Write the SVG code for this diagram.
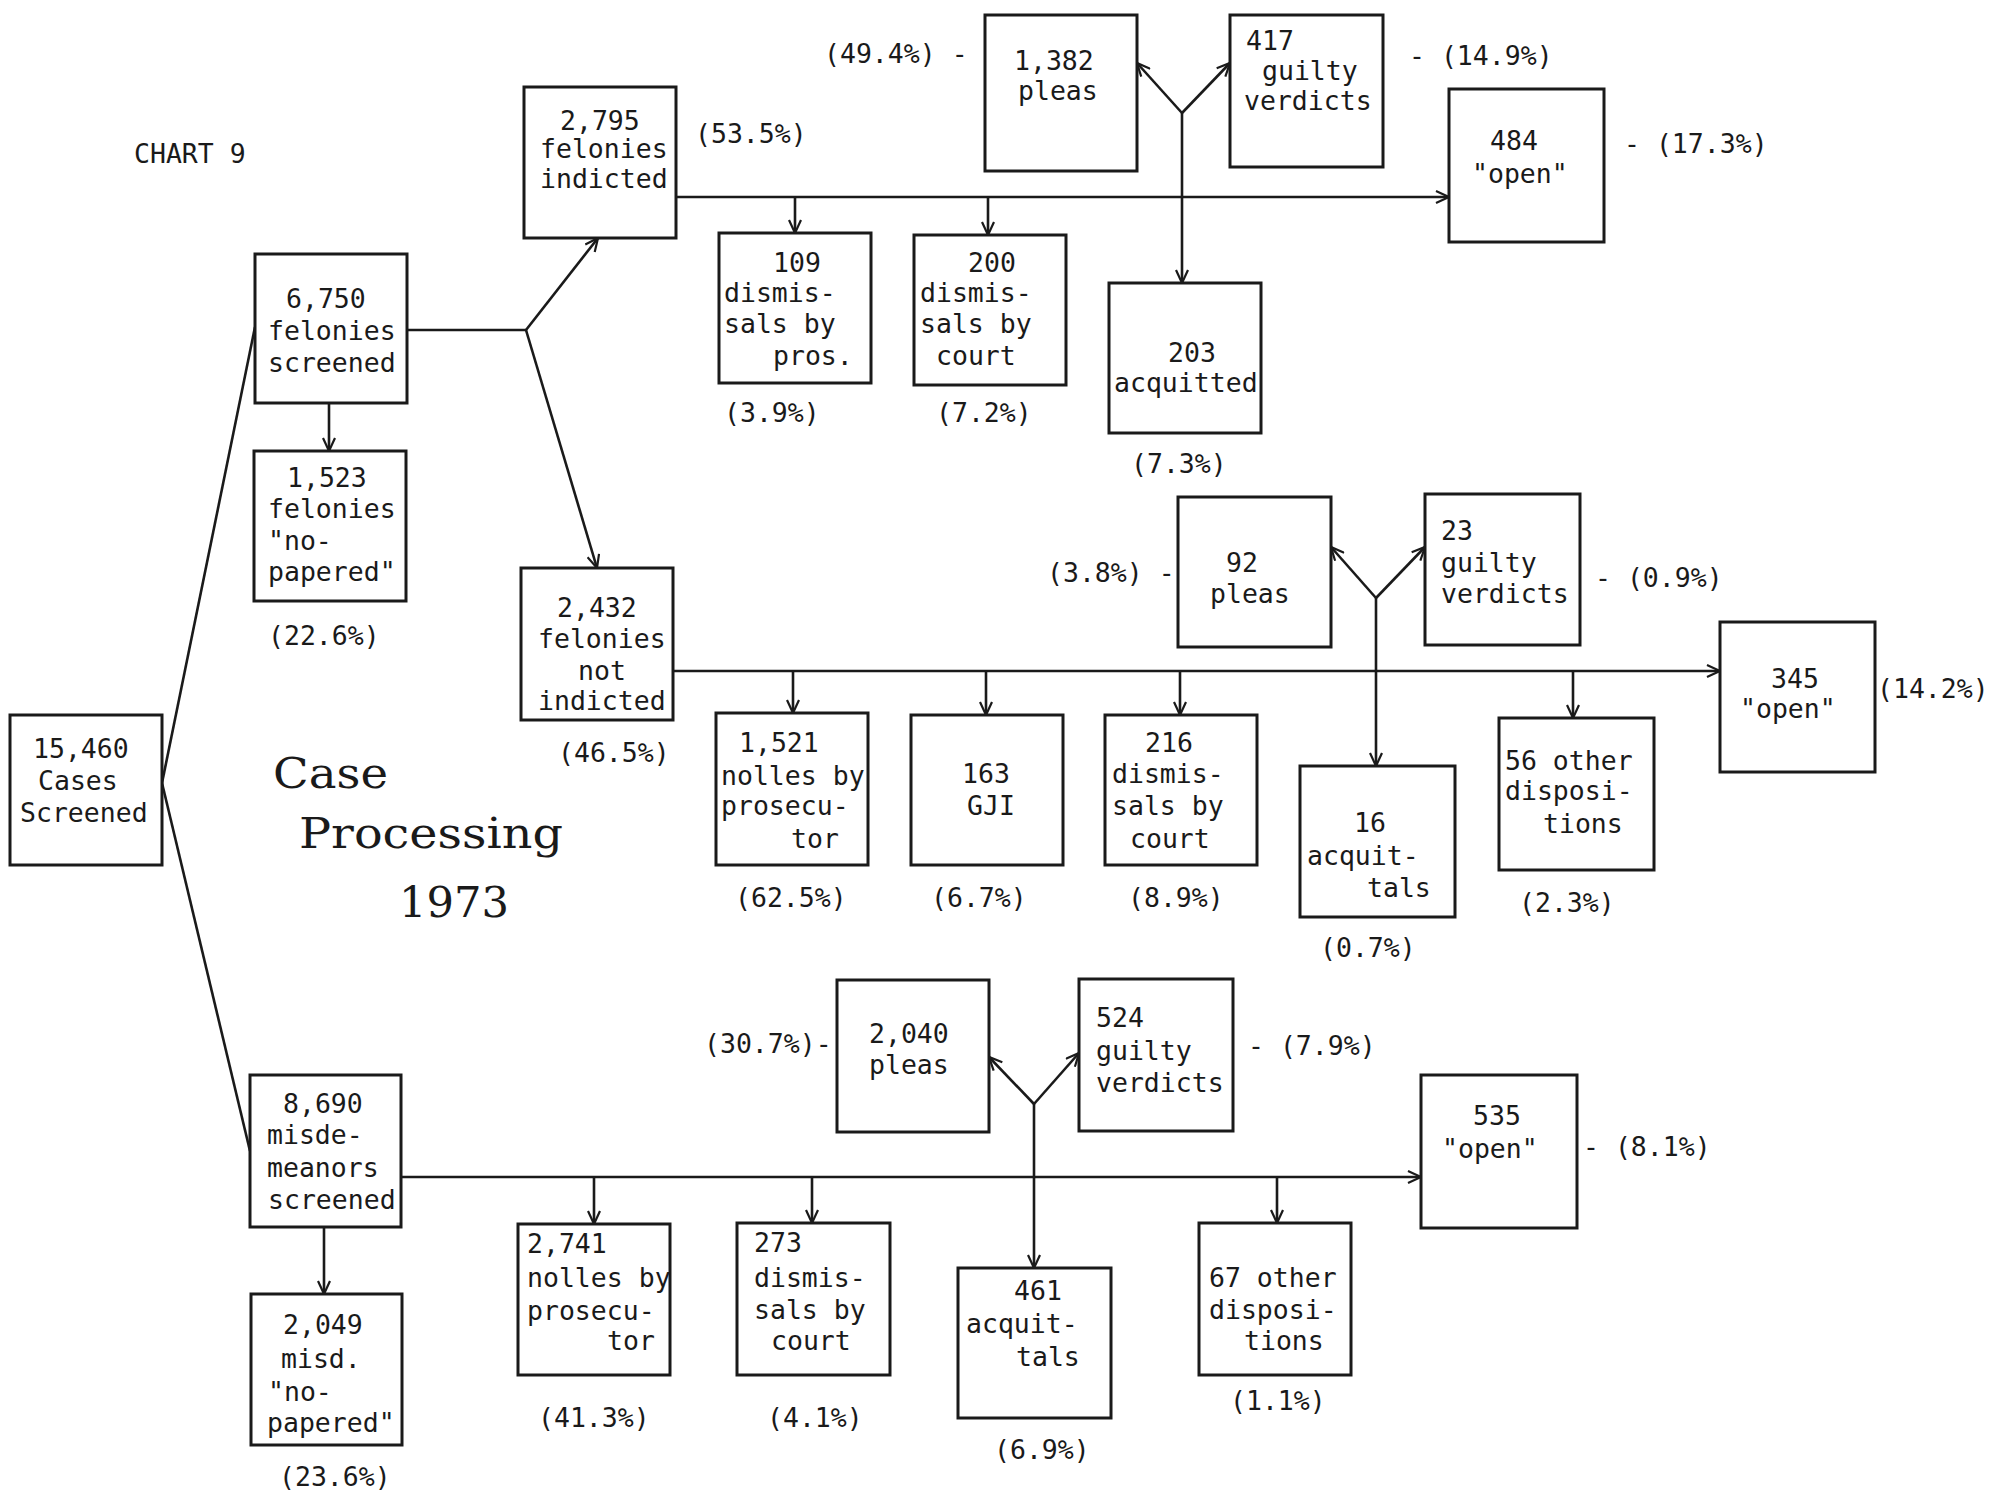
<svg xmlns="http://www.w3.org/2000/svg" width="1989" height="1498" viewBox="0 0 1989 1498">
<defs>
<style>
.bx{fill:#fff;stroke:#1a1a1a;stroke-width:3}
.t{font-family:"DejaVu Sans Mono","Liberation Mono",monospace;font-size:26.5px;fill:#1a1a1a}
.ttl{font-family:"DejaVu Serif","Liberation Serif",serif;font-size:42px;fill:#1a1a1a}
.c path{fill:none;stroke:#1a1a1a;stroke-width:2.6}
.c .a{marker-end:url(#ah)}
</style>
<marker id="ah" markerUnits="userSpaceOnUse" markerWidth="16" markerHeight="14" refX="14" refY="7" orient="auto">
<path d="M1,1 L14,7 L1,13" fill="none" stroke="#1a1a1a" stroke-width="2.2"/>
</marker>
</defs>
<rect width="1989" height="1498" fill="#fff"/>

<text class="t" x="134" y="163">CHART 9</text>
<g id="title">
<text class="ttl" x="273" y="788" textLength="115" lengthAdjust="spacingAndGlyphs">Case</text>
<text class="ttl" x="299" y="848" textLength="264" lengthAdjust="spacingAndGlyphs">Processing</text>
<text class="ttl" x="399" y="917" textLength="110" lengthAdjust="spacingAndGlyphs">1973</text>
</g>

<g class="c" id="connectors">
<path d="M162,783 L255,327"/>
<path d="M162,783 L250,1151"/>
<path d="M407,330 L526,330"/>
<path class="a" d="M526,330 L598,238"/>
<path class="a" d="M526,330 L597,568"/>
<path class="a" d="M329,403 L329,451"/>
<path class="a" d="M677,197 L1449,197"/>
<path class="a" d="M795,197 L795,233"/>
<path class="a" d="M988,197 L988,235"/>
<path class="a" d="M1182,113 L1182,283"/>
<path class="a" d="M1182,113 L1137,63"/>
<path class="a" d="M1182,113 L1230,63"/>
<path class="a" d="M673,671 L1720,671"/>
<path class="a" d="M793,671 L793,713"/>
<path class="a" d="M986,671 L986,715"/>
<path class="a" d="M1180,671 L1180,715"/>
<path class="a" d="M1573,671 L1573,718"/>
<path class="a" d="M1376,598 L1376,766"/>
<path class="a" d="M1376,598 L1331,547"/>
<path class="a" d="M1376,598 L1425,547"/>
<path class="a" d="M401,1177 L1421,1177"/>
<path class="a" d="M324,1227 L324,1294"/>
<path class="a" d="M594,1177 L594,1224"/>
<path class="a" d="M812,1177 L812,1223"/>
<path class="a" d="M1277,1177 L1277,1223"/>
<path class="a" d="M1034,1104 L1034,1268"/>
<path class="a" d="M1034,1104 L989,1057"/>
<path class="a" d="M1034,1104 L1079,1053"/>
</g>

<g id="n15460"><rect class="bx" x="10" y="715" width="152" height="150"/>
<text class="t" x="33" y="758">15,460</text><text class="t" x="38" y="790">Cases</text><text class="t" x="20" y="822">Screened</text></g>

<g id="n6750"><rect class="bx" x="255" y="254" width="152" height="149"/>
<text class="t" x="286" y="308">6,750</text><text class="t" x="268" y="340">felonies</text><text class="t" x="268" y="372">screened</text></g>

<g id="n1523"><rect class="bx" x="254" y="451" width="152" height="150"/>
<text class="t" x="287" y="487">1,523</text><text class="t" x="268" y="518">felonies</text><text class="t" x="268" y="550">"no-</text><text class="t" x="268" y="581">papered"</text>
<text class="t" x="268" y="645">(22.6%)</text></g>

<g id="n2795"><rect class="bx" x="524" y="87" width="152" height="151"/>
<text class="t" x="560" y="130">2,795</text><text class="t" x="540" y="158">felonies</text><text class="t" x="540" y="188">indicted</text>
<text class="t" x="695" y="143">(53.5%)</text></g>

<g id="n2432"><rect class="bx" x="521" y="568" width="152" height="152"/>
<text class="t" x="557" y="617">2,432</text><text class="t" x="538" y="648">felonies</text><text class="t" x="578" y="680">not</text><text class="t" x="538" y="710">indicted</text>
<text class="t" x="558" y="762">(46.5%)</text></g>

<g id="n109"><rect class="bx" x="719" y="233" width="152" height="150"/>
<text class="t" x="773" y="272">109</text><text class="t" x="724" y="302">dismis-</text><text class="t" x="724" y="333">sals by</text><text class="t" x="773" y="365">pros.</text>
<text class="t" x="724" y="422">(3.9%)</text></g>

<g id="n200"><rect class="bx" x="914" y="235" width="152" height="150"/>
<text class="t" x="968" y="272">200</text><text class="t" x="920" y="302">dismis-</text><text class="t" x="920" y="333">sals by</text><text class="t" x="936" y="365">court</text>
<text class="t" x="936" y="422">(7.2%)</text></g>

<g id="n1382"><rect class="bx" x="985" y="15" width="152" height="156"/>
<text class="t" x="1014" y="70">1,382</text><text class="t" x="1018" y="100">pleas</text>
<text class="t" x="824" y="63">(49.4%) -</text></g>

<g id="n417"><rect class="bx" x="1230" y="15" width="153" height="152"/>
<text class="t" x="1246" y="50">417</text><text class="t" x="1262" y="80">guilty</text><text class="t" x="1244" y="110">verdicts</text>
<text class="t" x="1409" y="65">- (14.9%)</text></g>

<g id="n203"><rect class="bx" x="1109" y="283" width="152" height="150"/>
<text class="t" x="1168" y="362">203</text><text class="t" x="1114" y="392">acquitted</text>
<text class="t" x="1131" y="473">(7.3%)</text></g>

<g id="n484"><rect class="bx" x="1449" y="89" width="155" height="153"/>
<text class="t" x="1490" y="150">484</text><text class="t" x="1472" y="183">"open"</text>
<text class="t" x="1624" y="153">- (17.3%)</text></g>

<g id="n92"><rect class="bx" x="1178" y="497" width="153" height="150"/>
<text class="t" x="1226" y="572">92</text><text class="t" x="1210" y="603">pleas</text>
<text class="t" x="1047" y="582">(3.8%) -</text></g>

<g id="n23"><rect class="bx" x="1425" y="494" width="155" height="151"/>
<text class="t" x="1441" y="540">23</text><text class="t" x="1441" y="572">guilty</text><text class="t" x="1441" y="603">verdicts</text>
<text class="t" x="1595" y="587">- (0.9%)</text></g>

<g id="n345"><rect class="bx" x="1720" y="622" width="155" height="150"/>
<text class="t" x="1771" y="688">345</text><text class="t" x="1740" y="718">"open"</text>
<text class="t" x="1877" y="698">(14.2%)</text></g>

<g id="n1521"><rect class="bx" x="716" y="713" width="152" height="152"/>
<text class="t" x="739" y="752">1,521</text><text class="t" x="721" y="785">nolles by</text><text class="t" x="721" y="815">prosecu-</text><text class="t" x="791" y="848">tor</text>
<text class="t" x="735" y="907">(62.5%)</text></g>

<g id="n163"><rect class="bx" x="911" y="715" width="152" height="150"/>
<text class="t" x="962" y="783">163</text><text class="t" x="967" y="815">GJI</text>
<text class="t" x="931" y="907">(6.7%)</text></g>

<g id="n216"><rect class="bx" x="1105" y="715" width="152" height="150"/>
<text class="t" x="1145" y="752">216</text><text class="t" x="1112" y="783">dismis-</text><text class="t" x="1112" y="815">sals by</text><text class="t" x="1130" y="848">court</text>
<text class="t" x="1128" y="907">(8.9%)</text></g>

<g id="n16"><rect class="bx" x="1300" y="766" width="155" height="151"/>
<text class="t" x="1354" y="832">16</text><text class="t" x="1307" y="865">acquit-</text><text class="t" x="1367" y="897">tals</text>
<text class="t" x="1320" y="957">(0.7%)</text></g>

<g id="n56"><rect class="bx" x="1499" y="718" width="155" height="152"/>
<text class="t" x="1505" y="770">56 other</text><text class="t" x="1505" y="800">disposi-</text><text class="t" x="1543" y="833">tions</text>
<text class="t" x="1519" y="912">(2.3%)</text></g>

<g id="n8690"><rect class="bx" x="250" y="1075" width="151" height="152"/>
<text class="t" x="283" y="1113">8,690</text><text class="t" x="267" y="1144">misde-</text><text class="t" x="267" y="1177">meanors</text><text class="t" x="268" y="1209">screened</text></g>

<g id="n2049"><rect class="bx" x="251" y="1294" width="151" height="151"/>
<text class="t" x="283" y="1334">2,049</text><text class="t" x="281" y="1368">misd.</text><text class="t" x="268" y="1401">"no-</text><text class="t" x="267" y="1432">papered"</text>
<text class="t" x="279" y="1486">(23.6%)</text></g>

<g id="n2741"><rect class="bx" x="518" y="1224" width="152" height="151"/>
<text class="t" x="527" y="1253">2,741</text><text class="t" x="527" y="1287">nolles by</text><text class="t" x="527" y="1320">prosecu-</text><text class="t" x="607" y="1350">tor</text>
<text class="t" x="538" y="1427">(41.3%)</text></g>

<g id="n273"><rect class="bx" x="737" y="1223" width="153" height="152"/>
<text class="t" x="754" y="1252">273</text><text class="t" x="754" y="1287">dismis-</text><text class="t" x="754" y="1319">sals by</text><text class="t" x="771" y="1350">court</text>
<text class="t" x="767" y="1427">(4.1%)</text></g>

<g id="n461"><rect class="bx" x="958" y="1268" width="153" height="150"/>
<text class="t" x="1014" y="1300">461</text><text class="t" x="966" y="1333">acquit-</text><text class="t" x="1016" y="1366">tals</text>
<text class="t" x="994" y="1459">(6.9%)</text></g>

<g id="n67"><rect class="bx" x="1199" y="1223" width="152" height="152"/>
<text class="t" x="1209" y="1287">67 other</text><text class="t" x="1209" y="1319">disposi-</text><text class="t" x="1244" y="1350">tions</text>
<text class="t" x="1230" y="1410">(1.1%)</text></g>

<g id="n2040"><rect class="bx" x="837" y="980" width="152" height="152"/>
<text class="t" x="869" y="1043">2,040</text><text class="t" x="869" y="1074">pleas</text>
<text class="t" x="704" y="1053">(30.7%)-</text></g>

<g id="n524"><rect class="bx" x="1079" y="979" width="154" height="152"/>
<text class="t" x="1096" y="1027">524</text><text class="t" x="1096" y="1060">guilty</text><text class="t" x="1096" y="1092">verdicts</text>
<text class="t" x="1248" y="1055">- (7.9%)</text></g>

<g id="n535"><rect class="bx" x="1421" y="1075" width="156" height="153"/>
<text class="t" x="1473" y="1125">535</text><text class="t" x="1442" y="1158">"open"</text>
<text class="t" x="1583" y="1156">- (8.1%)</text></g>
</svg>
